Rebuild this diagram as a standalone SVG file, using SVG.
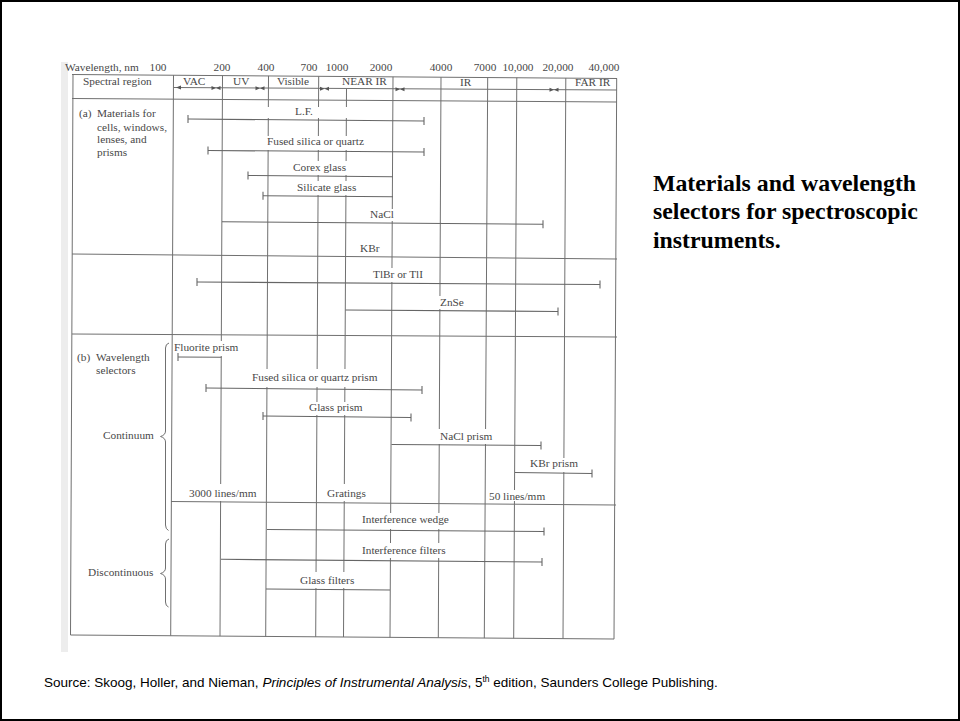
<svg xmlns="http://www.w3.org/2000/svg" width="960" height="721" viewBox="0 0 960 721">
<defs>
<style>
.g{stroke:#707070;stroke-width:1;fill:none}
.b{stroke:#666;stroke-width:1.1;fill:none}
.m{fill:#fff;stroke:none}
.t{font-family:"Liberation Serif","Times New Roman",serif;font-size:11.3px;fill:#484848}
.ttl{font-family:"Liberation Serif","Times New Roman",serif;font-size:23.8px;font-weight:bold;fill:#000}
.src{font-family:"Liberation Sans",Arial,sans-serif;font-size:13.5px;fill:#000}
.ar{fill:#555;stroke:none}
</style>
</defs>
<rect x="0" y="0" width="960" height="721" fill="#fff"/>
<rect x="1" y="1" width="958" height="719" fill="none" stroke="#000" stroke-width="2"/>
<rect x="61" y="62" width="7" height="590" fill="#ededed"/>

<g id="grid" class="g">
<line x1="72" y1="74.5" x2="617" y2="78.5"/>
<line x1="173.5" y1="87.5" x2="617" y2="90"/>
<line x1="72" y1="98.5" x2="617" y2="102"/>
<line x1="72" y1="254" x2="617" y2="259"/>
<line x1="72" y1="334" x2="617" y2="337"/>
<line x1="171" y1="501.5" x2="616" y2="505"/>
<line x1="70.5" y1="635" x2="614" y2="639"/>
<line x1="73" y1="74.5" x2="70.5" y2="635"/>
<line x1="173.5" y1="75.2" x2="170.7" y2="635.7"/>
<line x1="222.5" y1="75.6" x2="220" y2="636.1"/>
<line x1="268.5" y1="75.9" x2="265.7" y2="636.5"/>
<line x1="318.7" y1="76.3" x2="315.7" y2="636.8"/>
<line x1="346.5" y1="89" x2="343.5" y2="637"/>
<line x1="393" y1="76.8" x2="390" y2="637.4"/>
<line x1="441" y1="77.2" x2="438.3" y2="637.8"/>
<line x1="487.7" y1="77.5" x2="484.3" y2="638.1"/>
<line x1="516.8" y1="77.7" x2="513.7" y2="638.3"/>
<line x1="565.8" y1="78.1" x2="563" y2="638.7"/>
<line x1="616.7" y1="78.5" x2="614" y2="639.1"/>
</g>

<g id="masks" class="m">
<rect x="263" y="107" width="89" height="11"/>
<rect x="264" y="136" width="102" height="14"/>
<rect x="290" y="161" width="60" height="14"/>
<rect x="294" y="181" width="66" height="14"/>
<rect x="367" y="209" width="29" height="12"/>
<rect x="370" y="268" width="55" height="14"/>
<rect x="437" y="296" width="29" height="13"/>
<rect x="174" y="341" width="66" height="15"/>
<rect x="249" y="369" width="130" height="18"/>
<rect x="306" y="402" width="59" height="13"/>
<rect x="437" y="429" width="58" height="15"/>
<rect x="527" y="458" width="53" height="14"/>
<rect x="186" y="484" width="73" height="17"/>
<rect x="324" y="484" width="43" height="17"/>
<rect x="489" y="490" width="59" height="11"/>
<rect x="359" y="513" width="92" height="16"/>
<rect x="359" y="543" width="90" height="15"/>
<rect x="297" y="572" width="60" height="16"/>
</g>

<g id="header">
<text class="t" x="65" y="71">Wavelength, nm</text>
<g class="t" text-anchor="middle">
<text x="158" y="71">100</text>
<text x="222" y="71">200</text>
<text x="266" y="71">400</text>
<text x="309" y="71">700</text>
<text x="337" y="71">1000</text>
<text x="381" y="71">2000</text>
<text x="441" y="71">4000</text>
<text x="485" y="71">7000</text>
<text x="518" y="71">10,000</text>
<text x="558" y="71">20,000</text>
<text x="604" y="71">40,000</text>
</g>
<text class="t" x="83" y="84.5">Spectral region</text>
<text class="t" x="183" y="84.5">VAC</text>
<text class="t" x="233" y="84.5">UV</text>
<text class="t" x="277" y="84.5">Visible</text>
<text class="t" x="342" y="85">NEAR IR</text>
<text class="t" x="460" y="85.5">IR</text>
<text class="t" x="575" y="86">FAR IR</text>
<g class="ar">
<path d="M176,87.6 l5,-2 v4 z"/>
<path d="M216,88 l-4.5,-2 v4 z M216,88 l4.5,-2 v4 z"/>
<path d="M260,88.3 l-4.5,-2 v4 z M260,88.3 l4.5,-2 v4 z"/>
<path d="M324.5,88.7 l-4.5,-2 v4 z M324.5,88.7 l4.5,-2 v4 z"/>
<path d="M400,89.2 l-4.5,-2 v4 z M400,89.2 l4.5,-2 v4 z"/>
<path d="M554,89.8 l-4.5,-2 v4 z M554,89.8 l4.5,-2 v4 z"/>
</g>
</g>

<g id="labels-left" class="t">
<text x="79" y="117">(a)</text>
<text x="97" y="117">Materials for</text>
<text x="97" y="130.5">cells, windows,</text>
<text x="97" y="143">lenses, and</text>
<text x="97" y="156">prisms</text>
<text x="77" y="361">(b)</text>
<text x="96" y="361">Wavelength</text>
<text x="96" y="374">selectors</text>
<text x="103" y="439">Continuum</text>
<text x="88" y="576">Discontinuous</text>
</g>

<g id="braces" class="g">
<path d="M169,343 Q165.5,344 165.5,348 L165.5,431 Q165.5,435 160.5,436.5 Q165.5,438 165.5,442 L165.5,525 Q165.5,529 168.5,530.5"/>
<path d="M169,539 Q165.5,540 165.5,544 L165.5,568 Q165.5,572 160.5,573.5 Q165.5,575 165.5,579 L165.5,602 Q165.5,606 168.5,607"/>
</g>

<g id="bars" class="b">
<g id="bar-lf"><line x1="188" y1="119" x2="424" y2="121"/><line x1="188" y1="115" x2="188" y2="123"/><line x1="424" y1="117" x2="424" y2="125"/></g>
<g id="bar-fused"><line x1="208" y1="150.5" x2="424" y2="152"/><line x1="208" y1="146.5" x2="208" y2="154.5"/><line x1="424" y1="148" x2="424" y2="156"/></g>
<g id="bar-corex"><line x1="248" y1="175.5" x2="393" y2="176.7"/><line x1="248" y1="171.5" x2="248" y2="179.5"/></g>
<g id="bar-silicate"><line x1="263" y1="195.7" x2="393" y2="196.7"/><line x1="263" y1="191.7" x2="263" y2="199.7"/></g>
<g id="bar-nacl"><line x1="222" y1="221.7" x2="543" y2="224.3"/><line x1="543" y1="220.3" x2="543" y2="228.3"/></g>
<g id="bar-tlbr"><line x1="197" y1="282" x2="600" y2="284.5"/><line x1="197" y1="278" x2="197" y2="286"/><line x1="600" y1="280.5" x2="600" y2="288.5"/></g>
<g id="bar-znse"><line x1="345.5" y1="310" x2="558" y2="311.5"/><line x1="558" y1="307.5" x2="558" y2="315.5"/></g>
<g id="bar-fluorite"><line x1="178" y1="357" x2="221.5" y2="357.3"/><line x1="178" y1="353" x2="178" y2="361"/></g>
<g id="bar-fusedprism"><line x1="206" y1="388" x2="422" y2="390"/><line x1="206" y1="384" x2="206" y2="392"/><line x1="422" y1="386" x2="422" y2="394"/></g>
<g id="bar-glassprism"><line x1="263" y1="416" x2="411" y2="417.5"/><line x1="263" y1="412" x2="263" y2="420"/><line x1="411" y1="413.5" x2="411" y2="421.5"/></g>
<g id="bar-naclprism"><line x1="391.5" y1="444.5" x2="541" y2="445.5"/><line x1="541" y1="441.5" x2="541" y2="449.5"/></g>
<g id="bar-kbrprism"><line x1="515" y1="472.5" x2="592" y2="473.5"/><line x1="592" y1="469.5" x2="592" y2="477.5"/></g>
<g id="bar-wedge"><line x1="267" y1="529.5" x2="544" y2="531.5"/><line x1="544" y1="527.5" x2="544" y2="535.5"/></g>
<g id="bar-filters"><line x1="221" y1="559.3" x2="542" y2="562"/><line x1="542" y1="558" x2="542" y2="566"/></g>
<g id="bar-glassfilters"><line x1="266" y1="589" x2="390" y2="590"/></g>
</g>

<g id="bar-labels" class="t">
<text x="295" y="115">L.F.</text>
<text x="267" y="145">Fused silica or quartz</text>
<text x="293" y="170.5">Corex glass</text>
<text x="297" y="190.5">Silicate glass</text>
<text x="370" y="218">NaCl</text>
<text x="360" y="251.5">KBr</text>
<text x="373" y="277.5">TlBr or TlI</text>
<text x="440" y="305.5">ZnSe</text>
<text x="174" y="351">Fluorite prism</text>
<text x="252" y="381">Fused silica or quartz prism</text>
<text x="309" y="411">Glass prism</text>
<text x="440" y="440">NaCl prism</text>
<text x="530" y="467">KBr prism</text>
<text x="189" y="497">3000 lines/mm</text>
<text x="327" y="497">Gratings</text>
<text x="489" y="499.5">50 lines/mm</text>
<text x="362" y="523">Interference wedge</text>
<text x="362" y="554">Interference filters</text>
<text x="300" y="584">Glass filters</text>
</g>

<g id="title" class="ttl">
<text x="653" y="190.7">Materials and wavelength</text>
<text x="653" y="219.2">selectors for spectroscopic</text>
<text x="653" y="247.5">instruments.</text>
</g>

<g id="source">
<text class="src" x="44" y="687">Source: Skoog, Holler, and Nieman, <tspan font-style="italic">Principles of Instrumental Analysis</tspan>, 5<tspan font-size="8.5px" dy="-5">th</tspan><tspan dy="5"> edition, Saunders College Publishing.</tspan></text>
</g>
</svg>
